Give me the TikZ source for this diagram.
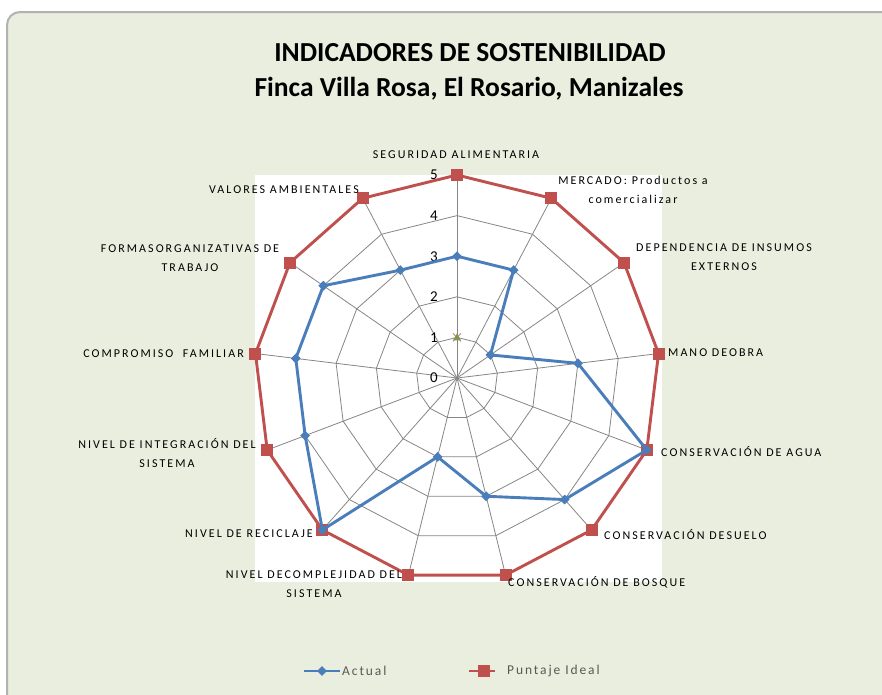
\documentclass[tikz,border=0pt]{standalone}
\usepackage{fontspec}
\setmainfont{Carlito}
\newfontfamily\lblfont[LetterSpace=17]{Carlito}
\newfontfamily\legfont[LetterSpace=14]{Carlito}
\usetikzlibrary{shapes.geometric,calc}
\definecolor{bgc}{RGB}{234,238,222}
\definecolor{frm}{RGB}{178,178,178}
\definecolor{gridc}{RGB}{134,134,134}
\definecolor{actc}{RGB}{74,126,187}
\definecolor{idc}{RGB}{192,80,77}
\definecolor{legc}{RGB}{89,89,89}
\tikzset{
  lbl/.style={inner sep=0pt, align=center, text=black, font={\lblfont\fontsize{12}{18.5}\selectfont}},
  axnum/.style={inner sep=0pt, font={\fontsize{15}{15}\selectfont}},
  gridline/.style={draw=gridc, line width=0.8pt},
  actline/.style={draw=actc, line width=2.9pt, line join=round},
  idline/.style={draw=idc, line width=2.9pt, line join=round},
  actmark/.style={diamond, fill=actc, inner sep=0pt, minimum width=10pt, minimum height=10pt},
  idmark/.style={rectangle, fill=idc, inner sep=0pt, minimum size=12pt},
  legtext/.style={inner sep=0pt, anchor=west, text=legc, font={\legfont\fontsize{13.5}{13.5}\selectfont}},
  titletext/.style={inner sep=0pt, font={\bfseries\fontsize{27.5}{27.5}\selectfont}}
}
\begin{document}
\begin{tikzpicture}[x=1pt, y=-1pt]
\clip (0,0) rectangle (882,694);
% frame
\fill[white] (0,0) rectangle (882,694);
\draw[frm, line width=2pt, fill=bgc, rounded corners=13pt] (7,12) rectangle (920,740);
% plot area
\fill[white] (255,175) rectangle (662,582);
% title
\node[titletext] (t1) at (470,53) {INDICADORES DE SOSTENIBILIDAD};
\node[titletext] (t2) at (469,89) {Finca Villa Rosa, El Rosario, Manizales};
% grid
\def\cx{457}\def\cy{378}\def\u{40.6}
\coordinate (o) at (\cx,\cy);
\foreach \k in {1,...,5}{
  \draw[gridline] plot[samples at={0,...,13}, variable=\t] ({\cx+\u*\k*sin(\t*360/13)},{\cy-\u*\k*cos(\t*360/13)});
}
\foreach \i in {0,...,12}{
  \coordinate (s\i) at ({\cx+\u*5*sin(\i*360/13)},{\cy-\u*5*cos(\i*360/13)});
  \draw[gridline] (o) -- (s\i);
}
% axis numbers
\foreach \k in {0,...,5}{
  \node[axnum] (n\k) at (434,{\cy-\u*\k}) {\k};
}
% data points
\foreach \v [count=\j from 0] in {3,3,1,3,5,4,3,2,5,4,4,4,3}{
  \coordinate (a\j) at ({\cx+\u*\v*sin(\j*360/13)},{\cy-\u*\v*cos(\j*360/13)});
  \coordinate (i\j) at ({\cx+\u*5*sin(\j*360/13)},{\cy-\u*5*cos(\j*360/13)});
}
\draw[idline] (i0)--(i1)--(i2)--(i3)--(i4)--(i5)--(i6)--(i7)--(i8)--(i9)--(i10)--(i11)--(i12)--cycle;
\foreach \j in {0,...,12}{ \node[idmark] (im\j) at (i\j) {}; }
\draw[actline] (a0)--(a1)--(a2)--(a3)--(a4)--(a5)--(a6)--(a7)--(a8)--(a9)--(a10)--(a11)--(a12)--cycle;
\foreach \j in {0,...,12}{ \node[actmark] (am\j) at (a\j) {}; }
% tiny markers at level 1
\coordinate (m1) at (\cx,{\cy-\u});
\fill[green!55!black!60!yellow] ($(m1)+(-4,3)$) -- ($(m1)+(4,3)$) -- ($(m1)+(0,-4)$) -- cycle;
\draw[violet!60, line width=0.8pt] ($(m1)+(-4,-4)$) -- ($(m1)+(4,4)$) ($(m1)+(-4,4)$) -- ($(m1)+(4,-4)$);
% labels
\node[lbl] (L0) at (456,155) {SEGURIDAD ALIMENTARIA};
\node[lbl] (L1) at (633,190) {MERCADO: Productos a\\comercializar};
\node[lbl] (L2) at (724,257) {DEPENDENCIA DE INSUMOS\\EXTERNOS};
\node[lbl, anchor=west] (L3) at (668,353) {MANO DEOBRA};
\node[lbl, anchor=west] (L4) at (661,452) {CONSERVACIÓN DE AGUA};
\node[lbl, anchor=west] (L5) at (604,535) {CONSERVACIÓN DESUELO};
\node[lbl, anchor=west] (L6) at (508,582) {CONSERVACIÓN DE BOSQUE};
\node[lbl] (L7) at (314,584) {NIVEL DECOMPLEJIDAD DEL\\SISTEMA};
\node[lbl, anchor=east] (L8) at (313,534) {NIVEL DE RECICLAJE};
\node[lbl] (L9) at (167,453) {NIVEL DE INTEGRACIÓN DEL\\SISTEMA};
\node[lbl, anchor=east] (L10) at (244,354) {COMPROMISO\ \ FAMILIAR};
\node[lbl] (L11) at (190,258) {FORMASORGANIZATIVAS DE\\TRABAJO};
\node[lbl, anchor=east] (L12) at (359,190) {VALORES AMBIENTALES};
% legend
\coordinate (la1) at (304,671); \coordinate (la2) at (340,671);
\draw[actline] (la1) -- (la2);
\node[actmark] (lam) at (322,671) {};
\node[legtext] (lat) at (342,671) {Actual};
\coordinate (lb1) at (469,671); \coordinate (lb2) at (495,671);
\draw[idline] (lb1) -- (lb2);
\node[idmark] (lbm) at (484,671) {};
\node[legtext] (lbt) at (507,671) {Puntaje Ideal};
\end{tikzpicture}
\end{document}
